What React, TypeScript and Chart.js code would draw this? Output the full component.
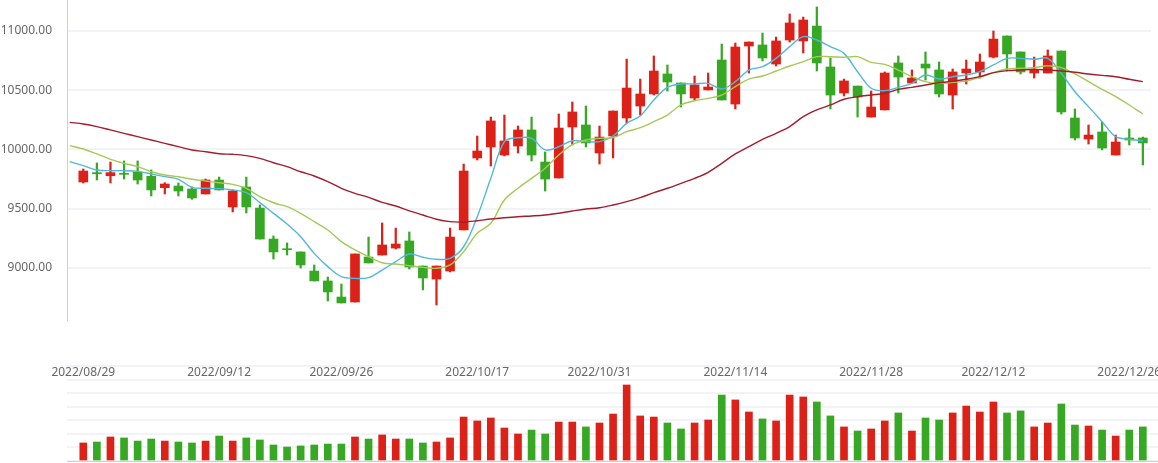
import React, { useEffect, useRef } from 'react';
import { Chart, registerables } from 'chart.js';

Chart.register(...registerables);

// ---- categories (trading days) ----
const dates: string[] = [
  '2022/08/29', '2022/08/30', '2022/08/31', '2022/09/01', '2022/09/02',
  '2022/09/05', '2022/09/06', '2022/09/07', '2022/09/08', '2022/09/09',
  '2022/09/12', '2022/09/13', '2022/09/14', '2022/09/15', '2022/09/16',
  '2022/09/19', '2022/09/20', '2022/09/21', '2022/09/22',
  '2022/09/26', '2022/09/27', '2022/09/28', '2022/09/29', '2022/09/30',
  '2022/10/10', '2022/10/11', '2022/10/12', '2022/10/13', '2022/10/14',
  '2022/10/17', '2022/10/18', '2022/10/19', '2022/10/20', '2022/10/21',
  '2022/10/24', '2022/10/25', '2022/10/26', '2022/10/27',
  '2022/10/31', '2022/11/01', '2022/11/02', '2022/11/03', '2022/11/04',
  '2022/11/07', '2022/11/08', '2022/11/09', '2022/11/10', '2022/11/11',
  '2022/11/14', '2022/11/15', '2022/11/16', '2022/11/17', '2022/11/18',
  '2022/11/21', '2022/11/22', '2022/11/23', '2022/11/24', '2022/11/25',
  '2022/11/28', '2022/11/29', '2022/11/30', '2022/12/01', '2022/12/02',
  '2022/12/05', '2022/12/06', '2022/12/07', '2022/12/08',
  '2022/12/12', '2022/12/13', '2022/12/14', '2022/12/15', '2022/12/16',
  '2022/12/19', '2022/12/20', '2022/12/21', '2022/12/22', '2022/12/23',
  '2022/12/26', '2022/12/27',
];

// ---- OHLC ----
const opens: number[] = [
  9724, 9803, 9777, 9798, 9809, 9772, 9676, 9690, 9665, 9623,
  9741, 9513, 9682, 9504, 9242, 9160, 9133, 8972, 8888, 8752,
  8710, 9090, 9107, 9166, 9226, 9014, 8904, 8972, 9319, 9927,
  10020, 9952, 10028, 10164, 9893, 9758, 10189, 10206, 9969, 10113,
  10265, 10366, 10468, 10637, 10561, 10434, 10502, 10755, 10383, 10873,
  10882, 10721, 10924, 10916, 11042, 10696, 10476, 10535, 10273, 10333,
  10730, 10561, 10721, 10671, 10459, 10645, 10654, 10780, 10958, 10823,
  10645, 10645, 10831, 10265, 10087, 10147, 9952, 10096, 10096,
];
const highs: number[] = [
  9834, 9885, 9893, 9902, 9902, 9826, 9718, 9716, 9682, 9749,
  9766, 9657, 9766, 9530, 9268, 9209, 9133, 9023, 8921, 8862,
  9116, 9259, 9378, 9335, 9302, 9014, 9014, 9335, 9876, 10113,
  10273, 10290, 10197, 10273, 9978, 10299, 10400, 10366, 10197, 10324,
  10763, 10594, 10789, 10713, 10561, 10620, 10645, 10890, 10899, 10907,
  10983, 10949, 11144, 11118, 11203, 10772, 10594, 10535, 10493, 10654,
  10789, 10671, 10823, 10738, 10679, 10755, 10806, 11000, 10958, 10823,
  10780, 10840, 10831, 10341, 10206, 10231, 10121, 10172, 10104,
];
const lows: number[] = [
  9716, 9741, 9716, 9749, 9707, 9606, 9623, 9606, 9578, 9623,
  9657, 9471, 9462, 9242, 9073, 9107, 8997, 8888, 8719, 8702,
  8710, 9040, 9107, 9158, 8989, 8812, 8685, 8964, 9319, 9910,
  9859, 9944, 9969, 9902, 9648, 9758, 10037, 10020, 9876, 9927,
  10223, 10290, 10459, 10493, 10358, 10417, 10502, 10417, 10341, 10645,
  10747, 10704, 10907, 10814, 10662, 10341, 10451, 10273, 10273, 10333,
  10476, 10561, 10586, 10442, 10341, 10552, 10603, 10772, 10662, 10637,
  10603, 10645, 10299, 10079, 10045, 9995, 9952, 10037, 9868,
];
const closes: number[] = [
  9817, 9794, 9803, 9789, 9741, 9657, 9707, 9648, 9589, 9741,
  9657, 9648, 9513, 9242, 9133, 9152, 9023, 8888, 8795, 8702,
  9116, 9040, 9192, 9200, 9006, 8913, 9014, 9259, 9817, 9986,
  10240, 10071, 10164, 9952, 9749, 10180, 10316, 10054, 10104, 10324,
  10518, 10468, 10662, 10569, 10468, 10544, 10527, 10417, 10865, 10907,
  10772, 10916, 11068, 11093, 10730, 10459, 10578, 10442, 10358, 10645,
  10611, 10603, 10687, 10468, 10654, 10679, 10738, 10932, 10806, 10654,
  10671, 10789, 10316, 10096, 10121, 10011, 10062, 10079, 10054,
];

// ---- volume (bars under the price chart) ----
const volumes: number[] = [
  133, 140, 177, 170, 147, 162, 147, 140, 133, 147,
  184, 147, 170, 155, 118, 103, 111, 118, 125, 125,
  177, 162, 192, 162, 162, 133, 140, 170, 324, 295,
  317, 243, 199, 228, 199, 287, 287, 251, 280, 346,
  560, 332, 324, 280, 236, 280, 302, 486, 450, 361,
  310, 295, 486, 472, 435, 332, 251, 221, 236, 295,
  354, 221, 317, 302, 354, 405, 361, 435, 354, 369,
  251, 280, 420, 265, 258, 228, 184, 228, 251,
];

// ---- moving averages (first value belongs to the day before 2022/08/29) ----
const maStart = -1;
const ma5: number[] = [
  9896, 9862, 9826, 9820, 9820, 9814, 9792, 9769, 9747, 9679,
  9671, 9668, 9657, 9634, 9550, 9459, 9369, 9262, 9121, 9009,
  8924, 8910, 8916, 8980, 9051, 9116, 9088, 9071, 9079, 9177,
  9431, 9755, 10065, 10098, 10093, 9995, 10022, 10073, 10065, 10065,
  10113, 10220, 10282, 10417, 10524, 10552, 10552, 10558, 10510, 10572,
  10670, 10699, 10769, 10868, 10952, 10924, 10868, 10811, 10656, 10516,
  10496, 10524, 10558, 10628, 10594, 10614, 10628, 10656, 10713, 10769,
  10769, 10761, 10769, 10642, 10487, 10361, 10234, 10107, 10085, 10073,
];
const ma10: number[] = [
  10031, 10003, 9961, 9916, 9882, 9854, 9811, 9783, 9769, 9747,
  9733, 9718, 9704, 9671, 9600, 9549, 9516, 9459, 9389, 9318,
  9220, 9150, 9093, 9042, 9031, 9017, 9003, 8995, 9023, 9135,
  9291, 9375, 9572, 9671, 9755, 9840, 9952, 10040, 10079, 10093,
  10099, 10149, 10183, 10234, 10290, 10375, 10411, 10431, 10459, 10530,
  10594, 10620, 10662, 10704, 10741, 10783, 10783, 10778, 10783, 10735,
  10718, 10670, 10614, 10572, 10558, 10566, 10578, 10609, 10648, 10679,
  10685, 10690, 10707, 10690, 10637, 10572, 10507, 10445, 10375, 10299,
];
const ma30: number[] = [
  10228, 10214, 10192, 10164, 10135, 10107, 10079, 10051, 10023, 9995,
  9980, 9963, 9958, 9947, 9924, 9887, 9854, 9811, 9775, 9727,
  9671, 9628, 9594, 9552, 9521, 9480, 9445, 9409, 9389, 9386,
  9397, 9411, 9422, 9431, 9437, 9445, 9460, 9479, 9496, 9507,
  9530, 9558, 9592, 9634, 9671, 9713, 9755, 9806, 9882, 9961,
  10023, 10085, 10135, 10192, 10276, 10333, 10375, 10423, 10445, 10459,
  10473, 10507, 10524, 10544, 10563, 10575, 10592, 10614, 10648, 10665,
  10670, 10676, 10670, 10662, 10651, 10637, 10625, 10614, 10592, 10572,
];

// ---- tick labels ----
const priceTicks: number[] = [9000, 9500, 10000, 10500, 11000];
const dateTickIndex: number[] = [0, 10, 19, 29, 38, 48, 58, 67, 77];

// ---- styling ----
const UP = '#dc2118';
const DOWN = '#37a823';
const GRID = '#f2f3f6';
const AXIS = '#c9d0e0';
const TEXT = '#666666';
const FONT = { family: '"Noto Sans", "Open Sans", sans-serif', size: 12 };
const X_MIN = -1.2;
const X_MAX = 78.6;
const STEP_PX = (1151 - 67) / (X_MAX - X_MIN);

export default function App() {
  const priceRef = useRef<HTMLCanvasElement | null>(null);
  const volRef = useRef<HTMLCanvasElement | null>(null);

  useEffect(() => {
    const colors = closes.map((c, i) => (c >= opens[i] ? UP : DOWN));
    const maLine = (arr: number[], color: string, label: string) => ({
      type: 'line' as const,
      label,
      data: arr.map((v, i) => ({ x: i + maStart, y: v })),
      borderColor: color,
      backgroundColor: color,
      borderWidth: 1.4,
      pointRadius: 0,
      tension: 0.35,
      fill: false,
      order: 0,
    });

    const price = new Chart(priceRef.current!, {
      type: 'bar',
      data: {
        datasets: [
          maLine(ma30, '#a31e2d', 'MA30'),
          maLine(ma10, '#a6c956', 'MA10'),
          maLine(ma5, '#52b7da', 'MA5'),
          {
            type: 'bar',
            label: 'wick',
            data: lows.map((l, i) => ({ x: i, y: [l, highs[i]] })) as any,
            backgroundColor: colors,
            barThickness: 1.6,
            grouped: false,
            order: 2,
          } as any,
          {
            type: 'bar',
            label: 'body',
            data: opens.map((o, i) => ({ x: i, y: [o, closes[i]] })) as any,
            backgroundColor: colors,
            barThickness: 9,
            minBarLength: 1,
            grouped: false,
            order: 1,
          } as any,
        ],
      },
      options: {
        responsive: false,
        animation: false,
        events: [],
        layout: { padding: { left: 0, right: 49, top: 0, bottom: 0 } },
        plugins: { legend: { display: false }, tooltip: { enabled: false } },
        scales: {
          x: {
            type: 'linear',
            offset: false,
            min: X_MIN,
            max: X_MAX,
            grid: { display: false, drawTicks: false, offset: false },
            border: { display: false },
            afterBuildTicks: (s: any) => {
              s.ticks = dateTickIndex.map((v) => ({ value: v }));
            },
            afterFit: (s: any) => {
              s.height = 143;
              s.paddingLeft = 0;
              s.paddingRight = 0;
            },
            ticks: {
              autoSkip: false,
              maxRotation: 0,
              padding: 45,
              color: TEXT,
              font: FONT,
              callback: (v: any) => dates[v] ?? '',
            },
          },
          y: {
            type: 'linear',
            min: 8558,
            max: 11262,
            beginAtZero: false,
            afterBuildTicks: (s: any) => {
              s.ticks = priceTicks.map((v) => ({ value: v }));
            },
            afterFit: (s: any) => {
              s.width = 67;
              s.paddingTop = 0;
              s.paddingBottom = 0;
            },
            grid: { color: GRID, lineWidth: 2, drawTicks: false },
            border: { color: AXIS, width: 1 },
            ticks: {
              padding: 15,
              color: TEXT,
              font: FONT,
              callback: (v: any) => Number(v).toFixed(2),
            },
          },
        },
      } as any,
    });

    const volWidth = 1200;
    const vol = new Chart(volRef.current!, {
      type: 'bar',
      data: {
        datasets: [
          {
            label: 'volume',
            data: volumes.map((v, i) => ({ x: i, y: v })) as any,
            backgroundColor: colors,
            barThickness: 7,
          },
        ],
      },
      options: {
        responsive: false,
        animation: false,
        events: [],
        layout: { padding: { left: 0, right: 0, top: 366, bottom: 2 } },
        plugins: { legend: { display: false }, tooltip: { enabled: false } },
        scales: {
          x: {
            type: 'linear',
            offset: false,
            min: X_MIN,
            max: X_MIN + (volWidth - 67) / STEP_PX,
            grid: { display: false, drawTicks: false, offset: false },
            border: { display: true, color: AXIS, width: 1 },
            ticks: { display: false },
            afterFit: (s: any) => {
              s.paddingLeft = 0;
              s.paddingRight = 0;
            },
          },
          y: {
            type: 'linear',
            min: 0,
            max: 700,
            afterFit: (s: any) => {
              s.width = 67;
              s.paddingTop = 0;
              s.paddingBottom = 0;
            },
            grid: { color: GRID, lineWidth: 2, drawTicks: false },
            border: { display: false },
            ticks: { display: false, stepSize: 100 },
          },
        },
      } as any,
    });

    return () => {
      price.destroy();
      vol.destroy();
    };
  }, []);

  return (
    <div
      style={{
        position: 'absolute',
        left: 0,
        top: 0,
        width: 1158,
        height: 463,
        overflow: 'hidden',
        background: '#ffffff',
      }}
    >
      <canvas
        ref={volRef}
        width={1200}
        height={463}
        style={{ position: 'absolute', left: 0, top: 0, width: 1200, height: 463 }}
      />
      <canvas
        ref={priceRef}
        width={1200}
        height={463}
        style={{ position: 'absolute', left: 0, top: 0, width: 1200, height: 463 }}
      />
    </div>
  );
}
